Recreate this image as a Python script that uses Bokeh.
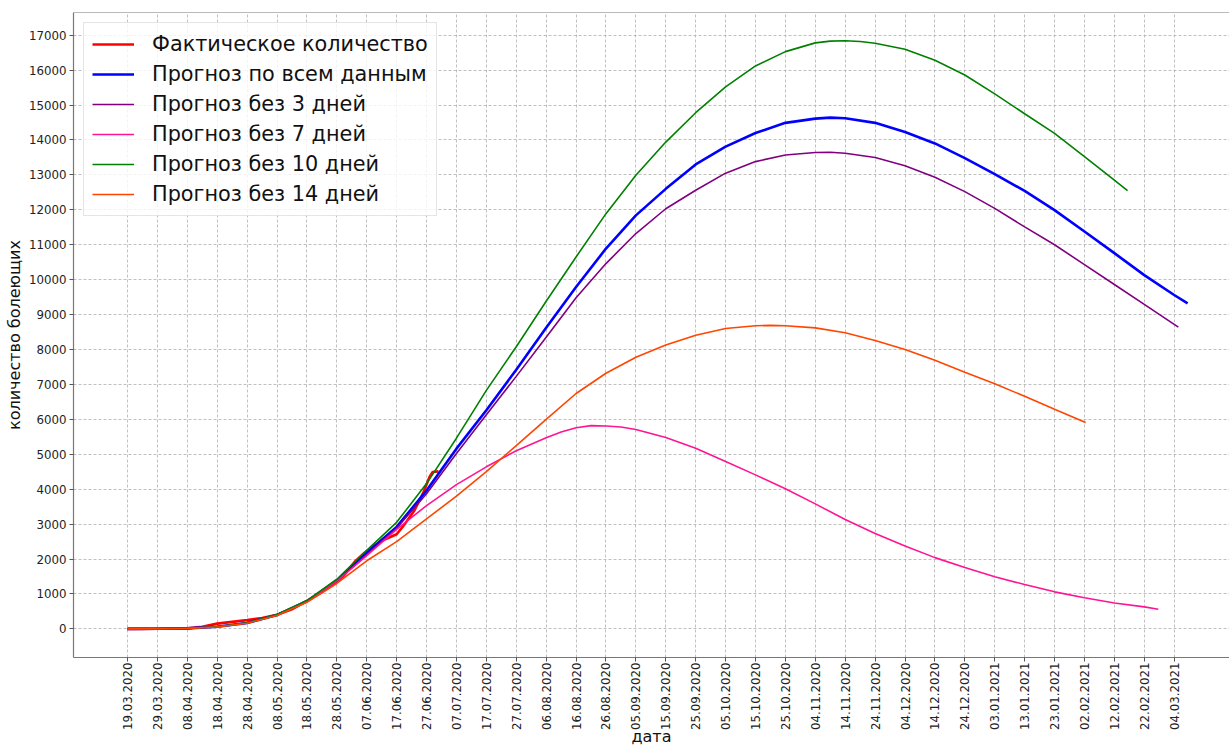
import math
from bokeh.plotting import figure
from bokeh.models import FixedTicker, Range1d, Span
from bokeh.embed import file_html
from bokeh.resources import INLINE

# ---- data (days since 19.03.2020) ----
tick_days = [0, 10, 20, 30, 40, 50, 60, 70, 80, 90, 100, 110, 120, 130, 140, 150, 160, 170,
             180, 190, 200, 210, 220, 230, 240, 250, 260, 270, 280, 290, 300, 310, 320, 330, 340, 350]
tick_labels = ["19.03.2020", "29.03.2020", "08.04.2020", "18.04.2020", "28.04.2020", "08.05.2020",
               "18.05.2020", "28.05.2020", "07.06.2020", "17.06.2020", "27.06.2020", "07.07.2020",
               "17.07.2020", "27.07.2020", "06.08.2020", "16.08.2020", "26.08.2020", "05.09.2020",
               "15.09.2020", "25.09.2020", "05.10.2020", "15.10.2020", "25.10.2020", "04.11.2020",
               "14.11.2020", "24.11.2020", "04.12.2020", "14.12.2020", "24.12.2020", "03.01.2021",
               "13.01.2021", "23.01.2021", "02.02.2021", "12.02.2021", "22.02.2021", "04.03.2021"]
y_ticks = [0, 1000, 2000, 3000, 4000, 5000, 6000, 7000, 8000, 9000, 10000, 11000, 12000,
           13000, 14000, 15000, 16000, 17000]

actual_days = [0, 5, 10, 15, 20, 25, 30, 35, 40, 45, 50, 55, 60, 65, 70, 72, 76, 79, 82, 86, 90,
               92, 96, 99, 101, 102, 104]
actual_vals = [0, 0, 2, 5, 15, 60, 150, 200, 250, 310, 400, 560, 800, 1050, 1350, 1490, 1920,
               2160, 2350, 2560, 2710, 2920, 3400, 3920, 4350, 4490, 4510]

full_days = [0, 10, 20, 30, 40, 50, 60, 70, 80, 90, 100, 110, 120, 130, 140, 150, 160, 170, 180,
             190, 200, 210, 220, 230, 235, 240, 250, 260, 270, 280, 290, 300, 310, 320, 330, 340,
             350, 354.5]
full_vals = [0, 2, 15, 60, 170, 400, 790, 1380, 2180, 2920, 3960, 5160, 6260, 7420, 8620, 9790,
             10890, 11840, 12600, 13300, 13810, 14200, 14490, 14610, 14640, 14620, 14490, 14230,
             13900, 13480, 13020, 12540, 11990, 11380, 10760, 10130, 9560, 9320]

no3_days = [0, 10, 20, 30, 40, 50, 60, 70, 80, 90, 100, 110, 120, 130, 140, 150, 160, 170, 180,
            190, 200, 210, 220, 230, 235, 240, 250, 260, 270, 280, 290, 300, 310, 320, 330, 340,
            350, 351.4]
no3_vals = [0, 2, 15, 60, 170, 400, 790, 1370, 2130, 2880, 3870, 5020, 6130, 7230, 8350, 9480,
            10460, 11320, 12030, 12560, 13050, 13380, 13570, 13640, 13650, 13620, 13500, 13260,
            12930, 12520, 12040, 11510, 11000, 10430, 9860, 9290, 8720, 8640]

no7_days = [0, 10, 20, 30, 40, 50, 60, 70, 80, 90, 100, 110, 120, 130, 140, 145, 150, 155, 160,
            165, 170, 180, 190, 200, 210, 220, 230, 240, 250, 260, 270, 280, 290, 300, 310, 320,
            330, 340, 344.7]
no7_vals = [0, 2, 15, 60, 170, 400, 790, 1370, 2100, 2850, 3530, 4130, 4640, 5100, 5470, 5640,
            5760, 5820, 5810, 5780, 5710, 5480, 5170, 4790, 4410, 4010, 3580, 3130, 2730, 2370,
            2040, 1760, 1490, 1270, 1060, 890, 740, 630, 560]

no10_days = [0, 10, 20, 30, 40, 50, 60, 70, 80, 90, 100, 110, 120, 130, 140, 150, 160, 170, 180,
             190, 200, 210, 220, 230, 235, 240, 245, 250, 260, 270, 280, 290, 300, 310, 320, 330,
             334.4]
no10_vals = [0, 2, 15, 60, 175, 410, 810, 1420, 2250, 3050, 4160, 5460, 6830, 8080, 9380, 10650,
             11890, 12990, 13940, 14780, 15520, 16120, 16530, 16780, 16830, 16840, 16820, 16770,
             16600, 16280, 15860, 15320, 14750, 14190, 13520, 12850, 12550]

no14_days = [0, 10, 20, 30, 40, 50, 60, 70, 80, 90, 100, 110, 120, 130, 140, 150, 160, 170, 180,
             190, 200, 210, 215, 220, 230, 240, 250, 260, 270, 280, 290, 300, 310, 320.4]
no14_vals = [0, 2, 15, 55, 160, 380, 760, 1300, 1950, 2500, 3150, 3800, 4500, 5250, 6000, 6740,
             7320, 7780, 8130, 8410, 8600, 8680, 8690, 8680, 8620, 8480, 8260, 8000, 7690, 7350,
             7020, 6660, 6290, 5910]

FONT = "DejaVu Sans"
X_START, X_END = -18.05, 368.5
Y_START, Y_END = -820, 17650

p = figure(width=1229, height=750, output_backend="svg", toolbar_location=None,
           x_range=Range1d(X_START, X_END), y_range=Range1d(Y_START, Y_END),
           min_border_left=73, min_border_right=0, min_border_top=12, min_border_bottom=93)
p.outline_line_color = None
p.background_fill_color = "white"

p.line(actual_days, actual_vals, color="red", line_width=2.6, legend_label="Фактическое количество")
p.line(full_days, full_vals, color="blue", line_width=2.6, legend_label="Прогноз по всем данным")
p.line(no3_days, no3_vals, color="purple", line_width=1.6, legend_label="Прогноз без 3 дней")
p.line(no7_days, no7_vals, color="deeppink", line_width=1.6, legend_label="Прогноз без 7 дней")
p.line(no10_days, no10_vals, color="green", line_width=1.6, legend_label="Прогноз без 10 дней")
p.line(no14_days, no14_vals, color="orangered", line_width=1.6, legend_label="Прогноз без 14 дней")

p.add_layout(Span(location=Y_END, dimension="width", line_color="#777777", line_width=1.2))

# axes
p.xaxis.ticker = FixedTicker(ticks=tick_days)
p.xaxis.major_label_overrides = {d: l for d, l in zip(tick_days, tick_labels)}
p.xaxis.major_label_orientation = math.pi / 2
p.yaxis.ticker = FixedTicker(ticks=y_ticks)
for ax in (p.xaxis[0], p.yaxis[0]):
    ax.axis_line_color = "#777777"
    ax.axis_line_width = 1.2
    ax.major_tick_line_color = "#555555"
    ax.major_tick_out = 4
    ax.major_tick_in = 0
    ax.minor_tick_line_color = None
    ax.major_label_text_font = FONT
    ax.major_label_text_font_size = "11.8px"
    ax.major_label_text_color = "#222222"
    ax.major_label_standoff = 3
    ax.axis_label_text_font = FONT
    ax.axis_label_text_font_size = "16px"
    ax.axis_label_text_font_style = "normal"
    ax.axis_label_text_color = "#111111"
p.xaxis.major_label_standoff = 1
p.yaxis.axis_label_standoff = 2
p.xaxis.axis_label_standoff = -6
p.xaxis.axis_label = "дата"
p.yaxis.axis_label = "количество болеющих"

# grid
for g in (p.xgrid[0], p.ygrid[0]):
    g.grid_line_color = "#b0b0b0"
    g.grid_line_dash = "3 2"
    g.grid_line_width = 0.8

# legend
lg = p.legend[0]
lg.location = "top_left"
lg.margin = 10
lg.padding = 8
lg.spacing = 4
lg.label_height = 26
lg.glyph_height = 26
lg.glyph_width = 42
lg.label_standoff = 18
lg.label_text_font = FONT
lg.label_text_font_size = "20.8px"
lg.label_text_color = "#111111"
lg.border_line_color = "#cccccc"
lg.border_line_width = 1
lg.background_fill_color = "white"
lg.background_fill_alpha = 0.8

open("out.html", "w").write(file_html(p, INLINE))
